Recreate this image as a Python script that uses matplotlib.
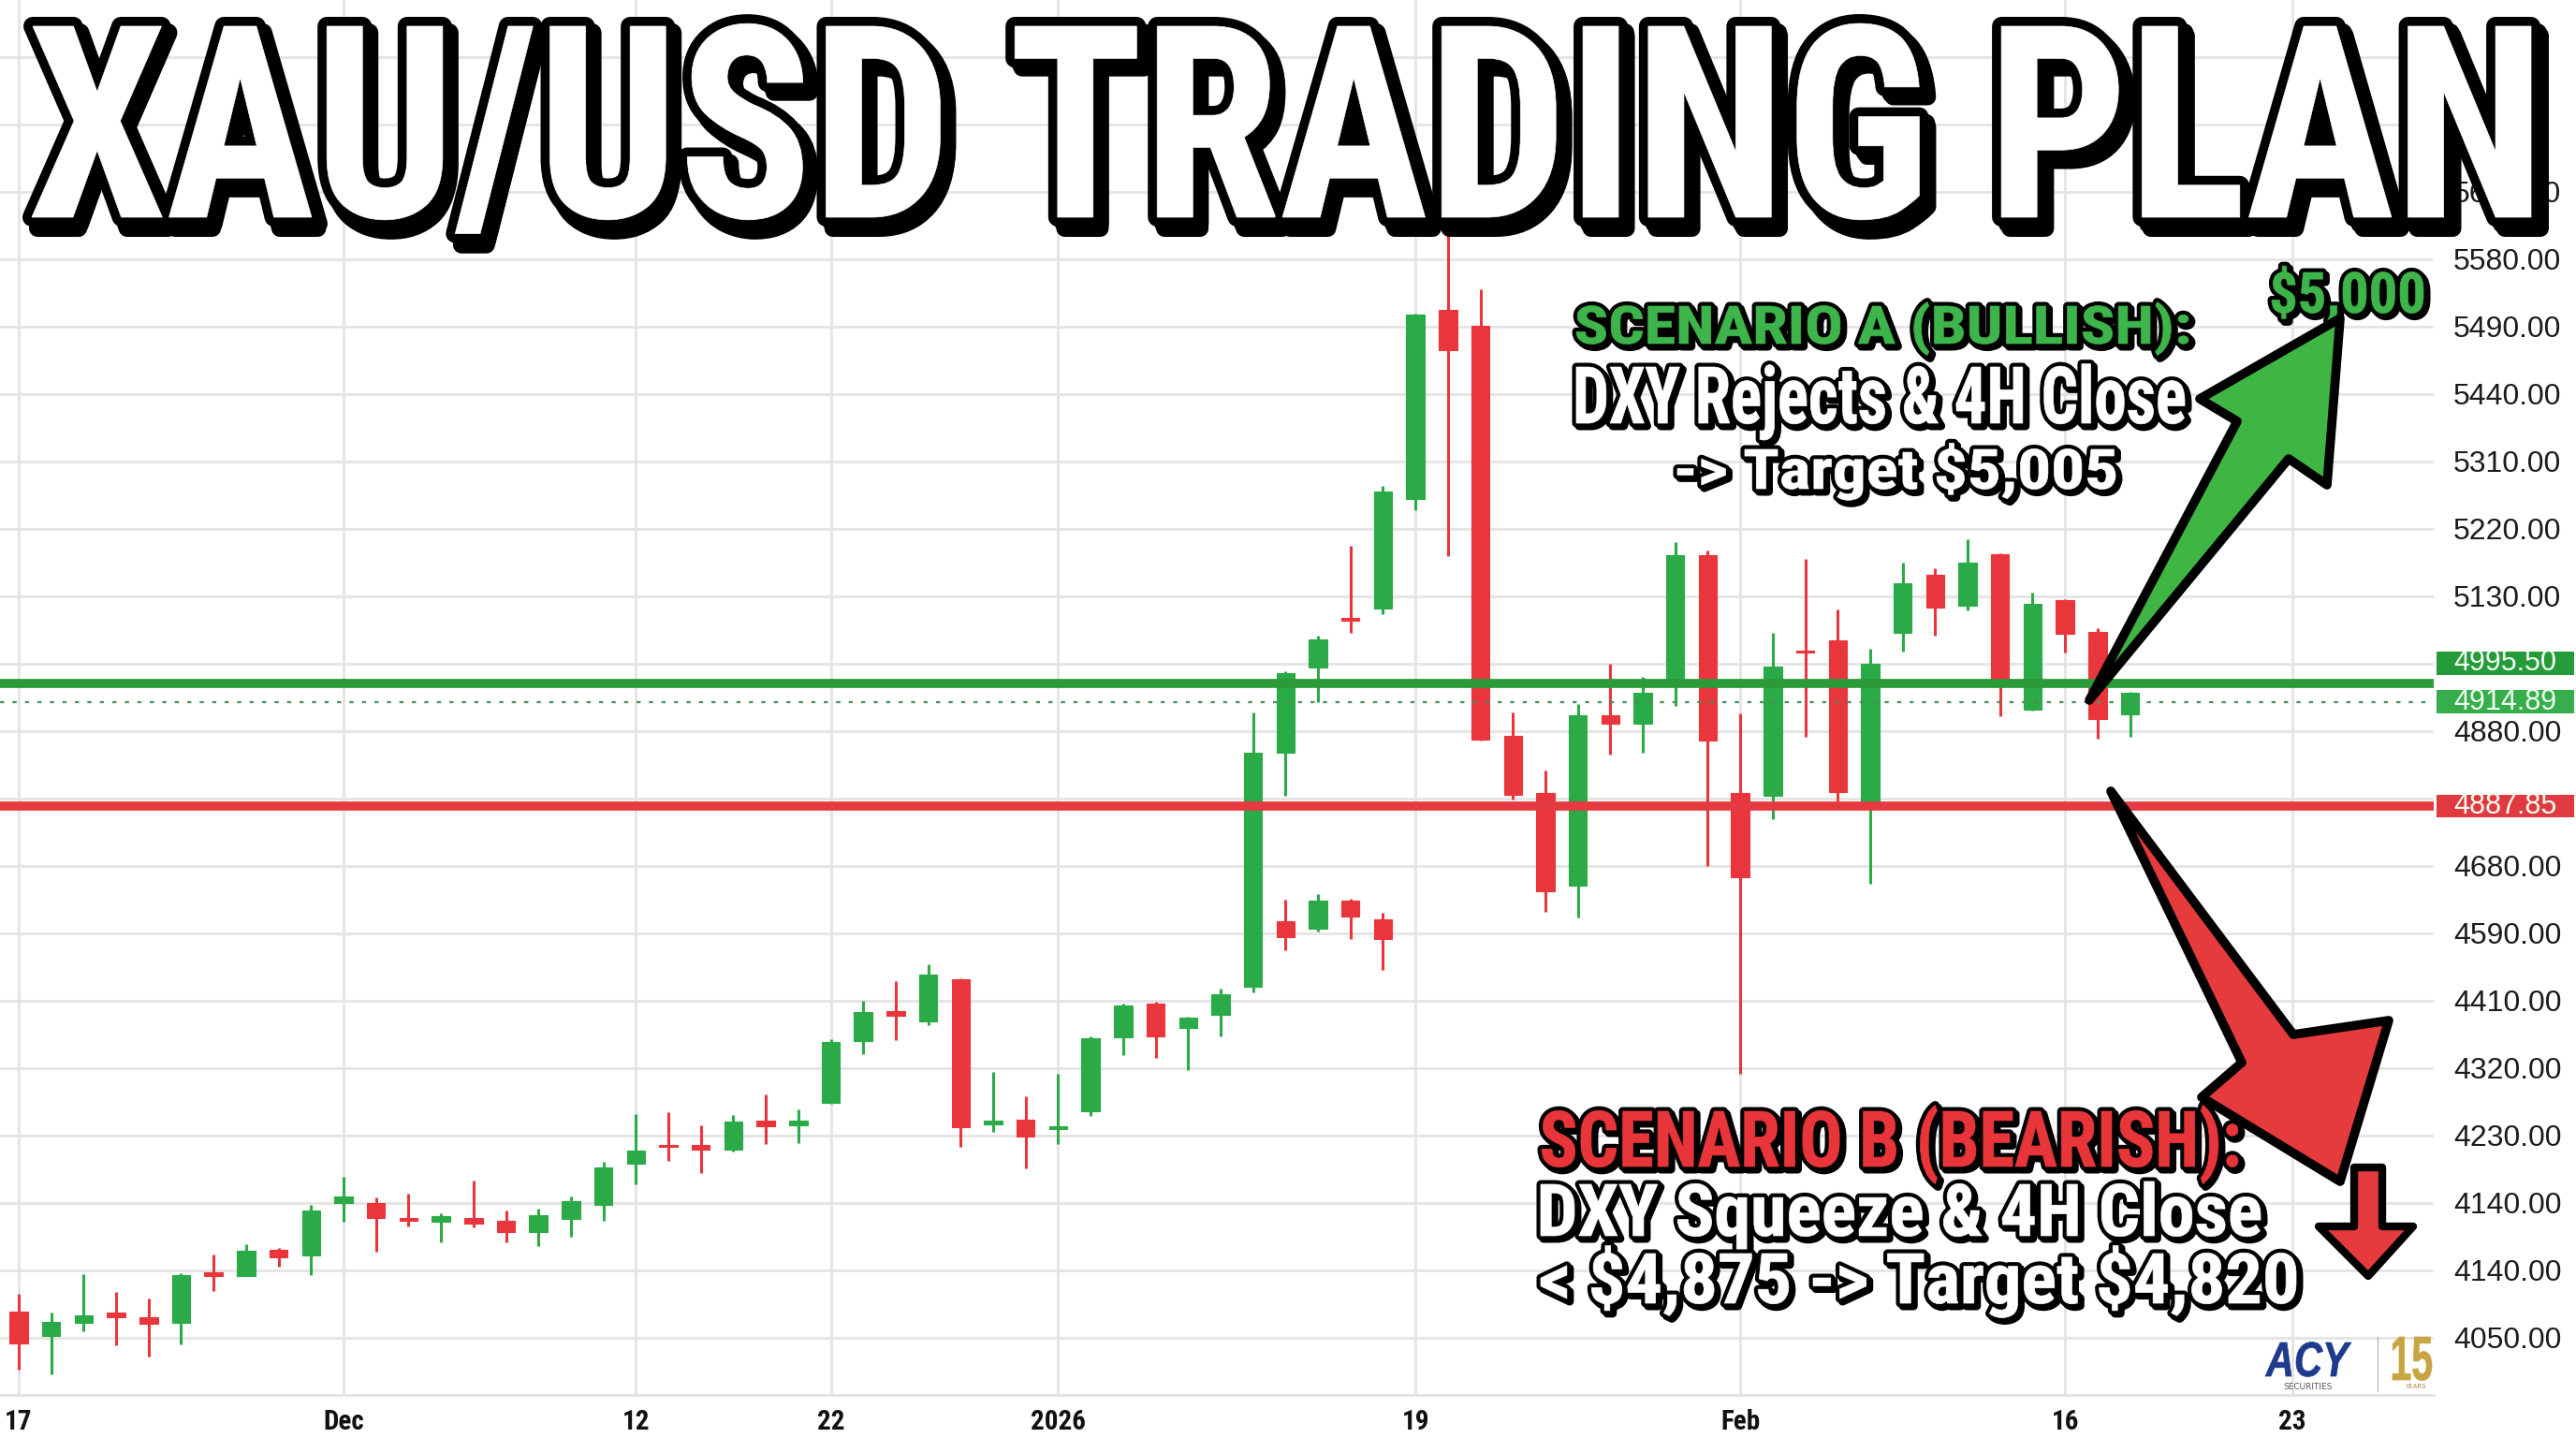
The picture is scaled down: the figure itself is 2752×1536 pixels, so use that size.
import matplotlib
matplotlib.use("Agg")
import matplotlib.pyplot as plt
import matplotlib.patheffects as pe
from matplotlib.textpath import TextPath
from matplotlib.patches import PathPatch, Polygon, Rectangle
from matplotlib.transforms import Affine2D, blended_transform_factory
from matplotlib.font_manager import FontProperties, findfont

plt.rcParams["text.parse_math"] = False

# ---- candle data (daily XAU/USD), index = trading day ----
opens = [4175, 4143, 4160, 4174, 4168, 4160, 4228, 4223, 4258, 4250,
         4320, 4320, 4300, 4295, 4300, 4296, 4281, 4299, 4318, 4373,
         4398, 4398, 4391, 4430, 4424, 4454, 4536, 4576, 4563, 4619,
         4425, 4431, 4419, 4443, 4541, 4586, 4554, 4571, 4609, 4921,
         5035, 5100, 5114, 5260, 5513, 5491, 4944, 4868, 4744, 4971,
         4960, 5016, 5185, 4868, 4864, 5056, 5071, 4856, 5081, 5159,
         5118, 5186, 4979, 5125, 5083, 4973]
highs = [4199, 4174, 4225, 4201, 4193, 4226, 4251, 4265, 4260, 4318,
         4355, 4328, 4333, 4306, 4350, 4310, 4313, 4329, 4375, 4439,
         4441, 4424, 4438, 4465, 4445, 4539, 4590, 4616, 4639, 4620,
         4495, 4463, 4493, 4543, 4586, 4589, 4569, 4606, 4975, 5030,
         5078, 5198, 5278, 5507, 5614, 5540, 4975, 4898, 4986, 5040,
         5023, 5203, 5191, 4974, 5081, 5180, 5113, 5060, 5175, 5168,
         5206, 5188, 5135, 5126, 5088, 5002]
lows = [4098, 4091, 4149, 4130, 4115, 4131, 4203, 4222, 4235, 4224,
        4295, 4255, 4289, 4268, 4288, 4268, 4263, 4275, 4296, 4345,
        4376, 4360, 4389, 4399, 4400, 4453, 4519, 4538, 4558, 4395,
        4415, 4366, 4399, 4436, 4518, 4514, 4498, 4543, 4601, 4864,
        4989, 5081, 5106, 5245, 5184, 4938, 4859, 4709, 4701, 4919,
        4921, 4984, 4770, 4493, 4833, 4943, 4856, 4746, 5056, 5078,
        5111, 4970, 4977, 5055, 4940, 4943]
closes = [4133, 4161, 4170, 4168, 4159, 4224, 4223, 4256, 4248, 4310,
          4329, 4300, 4296, 4303, 4293, 4281, 4304, 4323, 4368, 4390,
          4395, 4391, 4429, 4423, 4430, 4535, 4575, 4570, 4625, 4421,
          4430, 4409, 4423, 4540, 4584, 4543, 4568, 4599, 4921, 5028,
          5073, 5098, 5270, 5506, 5459, 4939, 4865, 4736, 4971, 4960,
          5001, 5185, 4938, 4755, 5036, 5055, 4869, 5040, 5148, 5115,
          5175, 5015, 5120, 5080, 4966, 5001]

# second (ghost) row of small candles printed under the breakout
ghost_idx = [39, 40, 41, 42]
ghost_open = [4696, 4686, 4724, 4699]
ghost_high = [4725, 4732, 4726, 4707]
ghost_low = [4658, 4682, 4672, 4631]
ghost_close = [4675, 4724, 4702, 4672]

# levels
green_level = 5014
last_level = 4989
red_level = 4850
tag_texts = ["4995.50", "4914.89", "4887.85"]

# axes ticks
grid_values = [5850, 5760, 5670, 5580, 5490, 5400, 5310, 5220, 5130, 5040,
               4950, 4860, 4770, 4680, 4590, 4500, 4410, 4320, 4230, 4140]
grid_labels = ["", "", "5670.00", "5580.00", "5490.00", "5440.00", "5310.00",
               "5220.00", "5130.00", "", "4880.00", "", "4680.00", "4590.00",
               "4410.00", "4320.00", "4230.00", "4140.00", "4140.00", "4050.00"]
date_pos = [0, 10, 19, 25, 32, 43, 53, 63, 70]
date_labels = ["17", "Dec", "12", "22", "2026", "19", "Feb", "16", "23"]

GREEN = "#2bab47"
RED = "#e8363c"


def pick(candidates, style="normal", size=None):
    for family, weight in candidates:
        fp = FontProperties(family=family, weight=weight, style=style, size=size)
        try:
            findfont(fp, fallback_to_default=False)
            return fp
        except Exception:
            pass
    return FontProperties(family="DejaVu Sans", weight="bold", style=style, size=size)


HEAVY = pick([("Roboto Condensed", "bold"), ("Liberation Sans Narrow", "bold"),
              ("Roboto", "black"), ("Liberation Sans", "bold")])
HEAVY_TICK = pick([("Roboto Condensed", "bold"), ("Liberation Sans Narrow", "bold"),
                   ("Liberation Sans", "bold")], size=21)
LABEL = pick([("Liberation Sans", "normal"), ("DejaVu Sans", "normal")], size=23)
TAG = pick([("Liberation Sans", "normal"), ("DejaVu Sans", "normal")], size=22)
SANS_BOLD = pick([("Liberation Sans", "bold")])
SANS_BI = pick([("Liberation Sans", "bold")], style="italic")

W, H = 2752, 1536
fig = plt.figure(figsize=(W / 100, H / 100), dpi=100)
fig.patch.set_facecolor("white")

bottom_px = 46
ax = fig.add_axes([0, bottom_px / H, 2600 / W, 1 - bottom_px / H])
ax.set_facecolor("white")
ax.set_xlim(-0.576, 74.35)
ax.set_ylim(4063.75, 5926.25)

ax.set_yticks(grid_values, grid_labels, fontproperties=LABEL, color="#1c1c1c")
ax.set_xticks(date_pos, date_labels, fontproperties=HEAVY_TICK, color="#111111")
ax.yaxis.tick_right()
ax.tick_params(axis="y", length=0, pad=15)
ax.tick_params(axis="x", length=0, pad=11)
ax.grid(color="#e4e4e4", lw=2)
ax.set_axisbelow(True)
for side in ["top", "left", "right"]:
    ax.spines[side].set_visible(False)
ax.spines["bottom"].set_color("#e2e2e2")
ax.spines["bottom"].set_linewidth(2)


def candles(xs, o, h, l, c, width=0.56):
    for x, oo, hh, ll, cc in zip(xs, o, h, l, c):
        col = GREEN if cc >= oo else RED
        ax.vlines(x, ll, hh, color=col, lw=2.2, zorder=3)
        lo = min(oo, cc)
        ht = max(abs(cc - oo), 3)
        ax.bar(x, ht, bottom=lo, width=width, color=col, edgecolor=col, lw=0.8, zorder=4)


candles(range(len(opens)), opens, highs, lows, closes)
candles(ghost_idx, ghost_open, ghost_high, ghost_low, ghost_close)

ax.axhline(green_level, color="#2b9a38", lw=7, zorder=5)
ax.axhline(red_level, color="#e53a3f", lw=7, zorder=5)
ax.axhline(last_level, color="#4f8a5c", lw=1.6, ls=(0, (2, 4)), zorder=5)

# price tags on the right scale
btr = blended_transform_factory(ax.transAxes, ax.transData)
tag_centres = [green_level + 27, last_level, red_level]
tag_colors = ["#259b3a", "#36ae4b", "#e03a40"]
for yc, txt, col in zip(tag_centres, tag_texts, tag_colors):
    ax.add_patch(Rectangle((1.001, yc - 15.5), 0.0565, 31, transform=btr,
                           fc=col, ec="none", clip_on=False, zorder=6))
    ax.text(1.0295, yc, txt, transform=btr, ha="center", va="center",
            fontproperties=TAG, color="#f4fff4", zorder=7, clip_on=False)

# ---- overlay in pixel coordinates for the thumbnail graphics ----
ov = fig.add_axes([0, 0, 1, 1], zorder=10)
ov.set_xlim(0, W)
ov.set_ylim(H, 0)
ov.axis("off")
ov.patch.set_alpha(0)


def stroked_text(s, box, fill, stroke_px, shadow=(4, 4), prop=HEAVY, shadow_col="black"):
    # box = (left ink edge, cap top, right ink edge, baseline) in pixels
    x0, y0, x1, y1 = box
    tp = TextPath((0, 0), s, size=100, prop=prop)
    bb = tp.get_extents()
    cap = TextPath((0, 0), "H", size=100, prop=prop).get_extents()
    tr = (Affine2D().translate(-bb.x0, 0)
          .scale((x1 - x0) / bb.width, -(y1 - y0) / cap.y1)
          .translate(x0, y1))
    path = tr.transform_path(tp)
    lw = stroke_px * 0.72
    if shadow:
        sh = Affine2D().translate(*shadow).transform_path(path)
        ov.add_patch(PathPatch(sh, fc=shadow_col, ec=shadow_col, lw=lw, joinstyle="round"))
    p = PathPatch(path, fc=fill, ec=fill, lw=0.5)
    if stroke_px:
        p.set_path_effects([pe.Stroke(linewidth=lw, foreground="black", joinstyle="round"),
                            pe.Normal()])
    ov.add_patch(p)


# soft grey shadow + black extrusion + outlined white title
stroked_text("XAU/USD TRADING PLAN", (40, 38, 2714, 244), "#a0a0a0", 18, shadow=None)
stroked_text("XAU/USD TRADING PLAN", (34, 28, 2704, 232), "white", 20, shadow=(7, 7))

# scenario A
stroked_text("SCENARIO A (BULLISH):", (1684, 327, 2338, 367), "#3db54a", 9, shadow=(3, 3))
stroked_text("DXY Rejects & 4H Close", (1684, 392, 2334, 452), "white", 9, shadow=(3, 3))
stroked_text("-> Target $5,005", (1792, 480, 2260, 522), "white", 9, shadow=(3, 3))
stroked_text("$5,000", (2427, 291, 2589, 334), "#3db54a", 9, shadow=(3, 3))

# scenario B
stroked_text("SCENARIO B (BEARISH):", (1647, 1187, 2391, 1246), "#e8353a", 9, shadow=(3, 3))
stroked_text("DXY Squeeze & 4H Close", (1646, 1265, 2415, 1320), "white", 9, shadow=(3, 3))
stroked_text("< $4,875 -> Target $4,820", (1646, 1339, 2453, 1392), "white", 9, shadow=(3, 3))

# arrows
up_arrow = [(2232, 748), (2390, 450), (2350, 426), (2500, 340), (2486, 518), (2445, 490)]
down_arrow = [(2255, 845), (2450, 1105), (2552, 1090), (2500, 1262), (2352, 1172), (2395, 1135)]
small_arrow = [(2515, 1247), (2545, 1247), (2545, 1310), (2578, 1310), (2530, 1363),
               (2477, 1310), (2515, 1310)]
ov.add_patch(Polygon(up_arrow, closed=True, fc="#3fb543", ec="black", lw=7, joinstyle="round"))
ov.add_patch(Polygon(down_arrow, closed=True, fc="#e53b3d", ec="black", lw=7, joinstyle="round"))
ov.add_patch(Polygon(small_arrow, closed=True, fc="#e53b3d", ec="black", lw=6, joinstyle="round"))

# ACY logo
stroked_text("ACY", (2420, 1434, 2512, 1470), "#1f3a8c", 0, shadow=None, prop=SANS_BI)
ov.text(2466, 1481, "SECURITIES", ha="center", va="center", fontsize=6.5,
        color="#555555", family="DejaVu Sans")
ov.plot([2540, 2540], [1428, 1486], color="#bbbbbb", lw=1)
stroked_text("15", (2556, 1428, 2598, 1474), "#c9a443", 0, shadow=None, prop=SANS_BOLD)
ov.text(2580, 1481, "YEARS", ha="center", va="center", fontsize=5, color="#a88a3a",
        family="DejaVu Sans")

fig.savefig("out.png", dpi=100, facecolor="white")
